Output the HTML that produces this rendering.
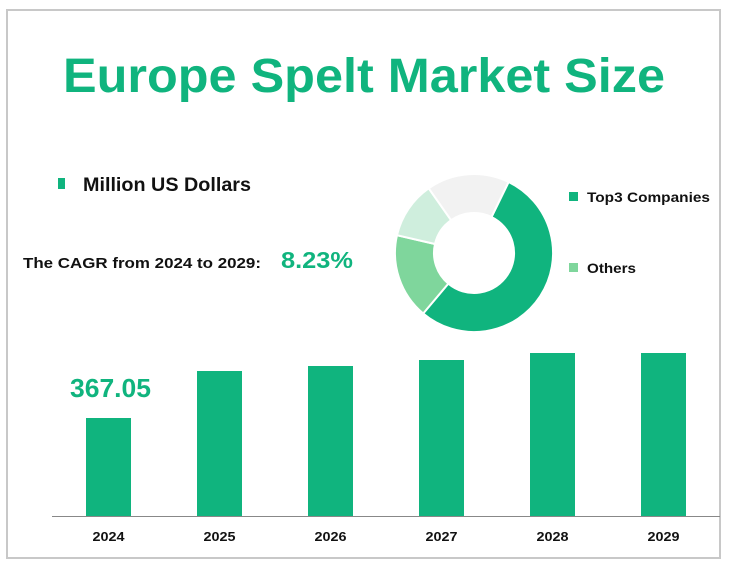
<!DOCTYPE html>
<html><head><meta charset="utf-8"><style>body{margin:0;background:#fff}svg{display:block}</style></head>
<body>
<svg width="732" height="571" viewBox="0 0 732 571" xmlns="http://www.w3.org/2000/svg" font-family="Liberation Sans, sans-serif">
<rect x="0" y="0" width="732" height="571" fill="#fff"/>
<rect x="7" y="10" width="713" height="548" fill="none" stroke="#c8c8c8" stroke-width="2"/>
<text x="364" y="92" text-anchor="middle" font-size="48" font-weight="bold" fill="#10b47e" textLength="602" lengthAdjust="spacingAndGlyphs">Europe Spelt Market Size</text>
<rect x="58" y="178" width="7" height="11" fill="#10b47e"/>
<text x="83" y="191" font-size="19" font-weight="bold" fill="#111" textLength="168" lengthAdjust="spacingAndGlyphs">Million US Dollars</text>
<text x="23" y="268" font-size="15" font-weight="bold" fill="#111" textLength="238" lengthAdjust="spacingAndGlyphs">The CAGR from 2024 to 2029:</text>
<text x="281" y="268" font-size="23" font-weight="bold" fill="#10b47e" textLength="72" lengthAdjust="spacingAndGlyphs">8.23%</text>
<g stroke="#fff" stroke-width="2">
<path d="M508.6,182 A79,79 0 1 1 423.2,313.5 L448.3,283.6 A40,40 0 1 0 491.5,217 Z" fill="#10b47e"/>
<path d="M423.2,313.5 A79,79 0 0 1 397,235.2 L435,244 A40,40 0 0 0 448.3,283.6 Z" fill="#7fd69c"/>
<path d="M397,235.2 A79,79 0 0 1 428.7,188.3 L451.1,220.2 A40,40 0 0 0 435,244 Z" fill="#cfeedd"/>
<path d="M428.7,188.3 A79,79 0 0 1 508.6,182 L491.5,217 A40,40 0 0 0 451.1,220.2 Z" fill="#f2f2f2"/>
</g>
<rect x="569" y="192" width="9" height="9" fill="#10b47e"/>
<text x="587" y="202" font-size="14" font-weight="bold" fill="#111" textLength="123" lengthAdjust="spacingAndGlyphs">Top3 Companies</text>
<rect x="569" y="263" width="9" height="9" fill="#7fd69c"/>
<text x="587" y="273" font-size="14" font-weight="bold" fill="#111" textLength="49" lengthAdjust="spacingAndGlyphs">Others</text>
<text x="70" y="397" font-size="26" font-weight="bold" fill="#10b47e" textLength="81" lengthAdjust="spacingAndGlyphs">367.05</text>
<g fill="#10b47e">
<rect x="86" y="418" width="45" height="98"/>
<rect x="197" y="371" width="45" height="145"/>
<rect x="308" y="366" width="45" height="150"/>
<rect x="419" y="360" width="45" height="156"/>
<rect x="530" y="353" width="45" height="163"/>
<rect x="641" y="353" width="45" height="163"/>
</g>
<line x1="52" y1="516.5" x2="720" y2="516.5" stroke="#888" stroke-width="1"/>
<g font-size="13" font-weight="bold" fill="#111" text-anchor="middle">
<text x="108.5" y="541" textLength="32" lengthAdjust="spacingAndGlyphs">2024</text>
<text x="219.5" y="541" textLength="32" lengthAdjust="spacingAndGlyphs">2025</text>
<text x="330.5" y="541" textLength="32" lengthAdjust="spacingAndGlyphs">2026</text>
<text x="441.5" y="541" textLength="32" lengthAdjust="spacingAndGlyphs">2027</text>
<text x="552.5" y="541" textLength="32" lengthAdjust="spacingAndGlyphs">2028</text>
<text x="663.5" y="541" textLength="32" lengthAdjust="spacingAndGlyphs">2029</text>
</g>
</svg>
</body></html>
